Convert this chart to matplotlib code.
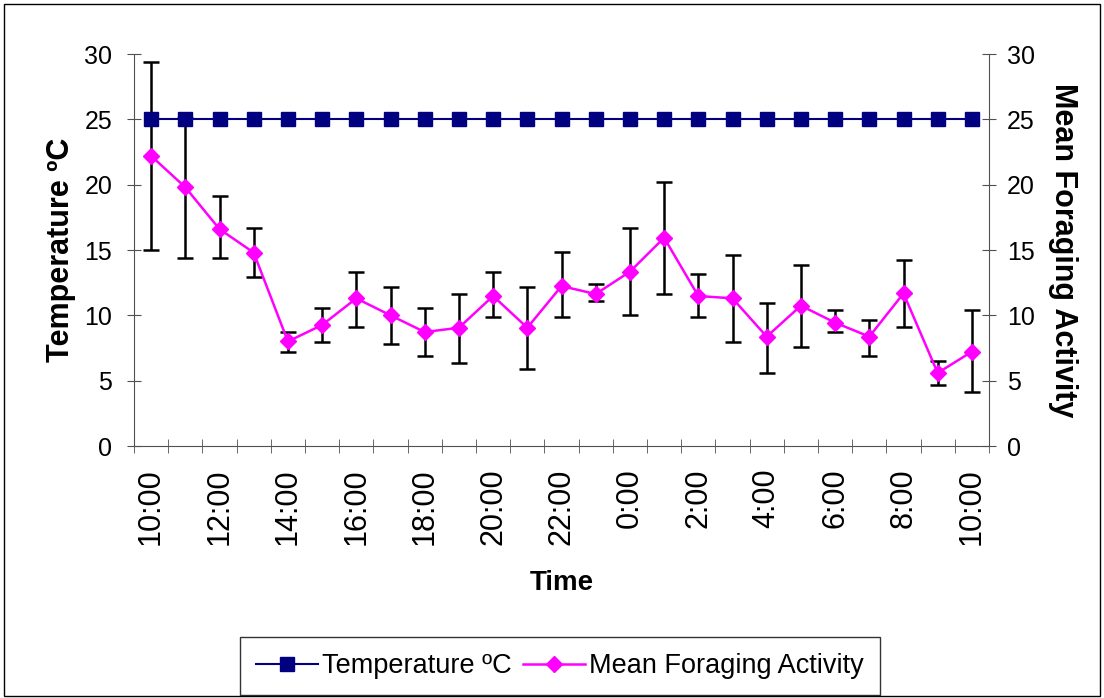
import matplotlib
matplotlib.use("Agg")
import matplotlib.pyplot as plt
import matplotlib.patches as patches
import numpy as np

plt.rcParams["font.family"] = ["Liberation Sans", "DejaVu Sans"]

times = ["10:00", "11:00", "12:00", "13:00", "14:00", "15:00", "16:00", "17:00",
         "18:00", "19:00", "20:00", "21:00", "22:00", "23:00", "0:00", "1:00",
         "2:00", "3:00", "4:00", "5:00", "6:00", "7:00", "8:00", "9:00", "10:00"]
temperature = [25] * 25
foraging = [22.2, 19.8, 16.6, 14.8, 8.0, 9.26, 11.3, 10.0, 8.72, 9.05, 11.48, 9.05, 12.24,
            11.63, 13.34, 15.94, 11.48, 11.3, 8.37, 10.74, 9.44, 8.37, 11.68, 5.59, 7.22]
err_high = [29.4, 25.1, 19.1, 16.7, 8.7, 10.56, 13.34, 12.2, 10.56, 11.65, 13.34, 12.2, 14.84,
            12.42, 16.65, 20.17, 13.16, 14.61, 10.94, 13.88, 10.4, 9.64, 14.23, 6.5, 10.4]
err_low = [15.0, 14.4, 14.4, 12.95, 7.2, 7.96, 9.08, 7.78, 6.86, 6.33, 9.84, 5.92, 9.84,
           11.12, 10.0, 11.65, 9.84, 7.96, 5.59, 7.6, 8.7, 6.89, 9.1, 4.64, 4.13]

x = np.arange(len(times))
fa = np.array(foraging)
yerr = [fa - np.array(err_low), np.array(err_high) - fa]

fig = plt.figure(figsize=(11.04, 6.98), dpi=100)
ax = fig.add_axes([134 / 1104, 1 - 446 / 698, 855 / 1104, 392 / 698])

axis_col = "#505050"
l1, = ax.plot(x, temperature, color="#000080", marker="s", markersize=9.5, linewidth=1.5,
              label="Temperature ºC", zorder=3)
ax.errorbar(x, foraging, yerr=yerr, fmt="none", ecolor="black", elinewidth=1.8,
            capsize=6, capthick=1.8, zorder=2)
l2, = ax.plot(x, foraging, color="#FF00FF", marker="D", markersize=8.5, linewidth=1.8,
              label="Mean Foraging Activity", zorder=4)

ax.set_xlim(-0.5, len(times) - 0.5)
ax.set_ylim(0, 30)
ax.set_yticks(range(0, 31, 5))
ax.set_xticks(x[::2])
ax.set_xticklabels(times[::2], rotation=90, fontsize=22)
ax.set_xticks(np.arange(-0.5, len(times)), minor=True)
ax.tick_params(axis="x", which="major", length=0, pad=16)
ax.tick_params(axis="x", which="minor", direction="inout", length=9.5, color=axis_col)
ax.tick_params(axis="y", direction="inout", length=9.5, labelsize=18, color=axis_col, pad=11)

for s in ["top", "right"]:
    ax.spines[s].set_visible(False)
for s in ["left", "bottom"]:
    ax.spines[s].set_color(axis_col)

ax.set_ylabel("Temperature ºC", fontsize=22, fontweight="bold", labelpad=6)
ax.set_xlabel("Time", fontsize=20, fontweight="bold", labelpad=18)

ax2 = ax.twinx()
ax2.set_ylim(0, 30)
ax2.set_yticks(range(0, 31, 5))
ax2.tick_params(axis="y", direction="inout", length=9.5, labelsize=18, color=axis_col, pad=8)
for s in ["top", "left", "bottom"]:
    ax2.spines[s].set_visible(False)
ax2.spines["right"].set_color(axis_col)
ax2.set_ylabel("Mean Foraging Activity", fontsize=22, fontweight="bold",
               rotation=-90, labelpad=31)

leg = fig.legend(handles=[l1, l2], loc="center", bbox_to_anchor=(560 / 1104, 1 - 666 / 698),
                 ncol=2, fontsize=19.5, frameon=True, fancybox=False, handlelength=2.3,
                 handletextpad=0.15, columnspacing=0.4, borderpad=0.6)
leg.get_frame().set_edgecolor("black")
leg.get_frame().set_linewidth(1)

fig.patches.append(patches.Rectangle((4 / 1104, 2 / 698), 1096 / 1104, 692 / 698,
                                     transform=fig.transFigure, fill=False,
                                     edgecolor="black", linewidth=1))

fig.savefig("out.png", dpi=100)
